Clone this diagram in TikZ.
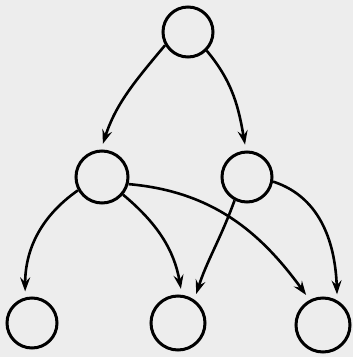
\documentclass[tikz,border=0pt]{standalone}
\usetikzlibrary{arrows.meta}
\definecolor{paper}{RGB}{237,237,237}
\tikzset{
  vertex/.style={circle, draw=black, line width=3pt, inner sep=0pt, minimum size=#1},
  vertex/.default=50pt,
  link/.style={line width=2.6pt, draw=black,
    -{Stealth[length=14pt,width=10pt,inset=5pt]}, shorten >=6pt}
}
\begin{document}
\begin{tikzpicture}[x=1pt,y=1pt]
  \fill[paper] (0,0) rectangle (353,357);
  \useasboundingbox (0,0) rectangle (353,357);

  \node[vertex] (top) at (188,325) {};
  \node[vertex=52pt] (ml) at (102,180) {};
  \node[vertex] (mr) at (247,180) {};
  \node[vertex] (bl) at (32,34) {};
  \node[vertex=54pt] (bm) at (178,34) {};
  \node[vertex=54pt] (br) at (323,32) {};

  \draw[link] (top.210) to[out=230, in=72] (ml.92);
  \draw[link] (top.-45) to[out=-50, in=100] (mr.92);
  \draw[link] (ml.209) to[out=215, in=90] (bl.105);
  \draw[link] (ml.-40) to[out=-40, in=100] (bm.82);
  \draw[link] (ml.-15) to[out=-5, in=126] (br.118);
  \draw[link] (mr.242) to[out=250, in=72] (bm.55);
  \draw[link] (mr.-10) to[out=-18, in=92] (br.60);
\end{tikzpicture}
\end{document}
